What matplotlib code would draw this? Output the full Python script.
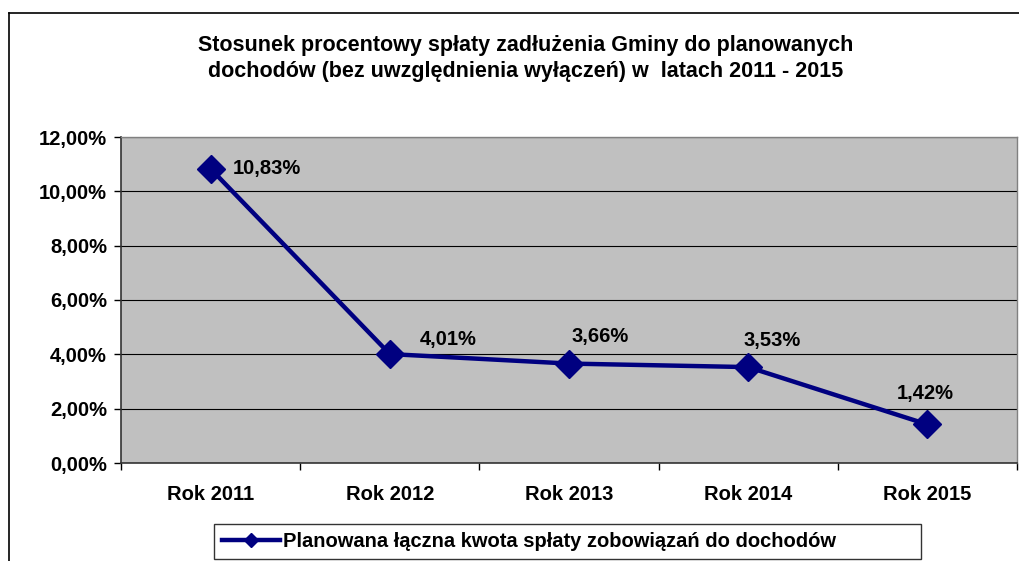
import matplotlib

matplotlib.use("Agg")

import matplotlib.pyplot as plt
from matplotlib.lines import Line2D
from matplotlib.ticker import FixedLocator, FuncFormatter

# data
years = ["Rok 2011", "Rok 2012", "Rok 2013", "Rok 2014", "Rok 2015"]
ratios = [10.83, 4.01, 3.66, 3.53, 1.42]
series_name = "Planowana łączna kwota spłaty zobowiązań do dochodów"
title = (
    "Stosunek procentowy spłaty zadłużenia Gminy do planowanych\n"
    "dochodów (bez uwzględnienia wyłączeń) w  latach 2011 - 2015"
)

# label offsets in pixels (x, y), placed by hand as in the original
label_offsets = [(22, 0), (30, 15), (2, 27), (-5, 27), (-31, 31)]

NAVY = "#000080"
plt.rcParams["font.family"] = ["Liberation Sans", "DejaVu Sans"]
plt.rcParams["font.weight"] = "bold"

W, H = 1020, 561
fig = plt.figure(figsize=(W / 100, H / 100), dpi=100, facecolor="white")
ax = fig.add_axes((121 / W, 1 - 463 / H, (1017 - 121) / W, (463 - 137) / H))
ax.set_facecolor("#C0C0C0")

x = list(range(len(years)))
ax.plot(
    x,
    ratios,
    color=NAVY,
    linewidth=3.2,
    marker="D",
    markersize=14,
    markerfacecolor=NAVY,
    markeredgecolor=NAVY,
    label=series_name,
    zorder=3,
    clip_on=False,
)

for xi, value, (dx, dy) in zip(x, ratios, label_offsets):
    ax.annotate(
        f"{value:.2f}%".replace(".", ","),
        (xi, value),
        xytext=(dx * 0.72, dy * 0.72),
        textcoords="offset points",
        ha="left",
        va="center",
        fontsize=14.5,
        fontweight="bold",
        color="black",
    )

ax.set_ylim(0, 12)
ax.set_xlim(-0.5, len(years) - 0.5)
ax.yaxis.set_major_locator(FixedLocator([0, 2, 4, 6, 8, 10, 12]))
ax.yaxis.set_major_formatter(FuncFormatter(lambda v, _: f"{v:.2f}%".replace(".", ",")))
ax.grid(axis="y", color="black", linewidth=0.8)
ax.set_axisbelow(True)

ax.set_xticks([i - 0.5 for i in range(len(years) + 1)])
ax.set_xticklabels([])
ax.set_xticks(x, minor=True)
ax.set_xticklabels(years, minor=True)
ax.tick_params(axis="x", which="major", length=5, width=1, direction="out", color="black")
ax.tick_params(axis="x", which="minor", length=0, pad=16, labelsize=14.5)
ax.tick_params(axis="y", length=5, width=1, direction="out", pad=5, labelsize=14.5, color="black")

for side in ("top", "right"):
    ax.spines[side].set_color("#808080")
    ax.spines[side].set_linewidth(1)
for side in ("left", "bottom"):
    ax.spines[side].set_color("#333333")
    ax.spines[side].set_linewidth(1.2)

fig.text(0.515, 1 - 58.5 / H, title, ha="center", va="center", fontsize=15.5,
         fontweight="bold", linespacing=1.25)

# outer chart border (cut off on the right and bottom)
fig.add_artist(Line2D([9 / W, 9 / W], [0, 1 - 13 / H], transform=fig.transFigure,
                      color="black", linewidth=1.2))
fig.add_artist(Line2D([9 / W, 1], [1 - 13 / H, 1 - 13 / H], transform=fig.transFigure,
                      color="black", linewidth=1.2))

leg = fig.legend(
    loc="upper left",
    bbox_to_anchor=(214 / W, 1 - 524 / H, (921 - 214) / W, 0),
    mode="expand",
    frameon=True,
    fancybox=False,
    fontsize=14.5,
    handlelength=2.9,
    handletextpad=0.15,
    borderpad=0.4,
    borderaxespad=0,
)
leg.get_frame().set_edgecolor("black")
leg.get_frame().set_linewidth(1)
for handle in leg.legend_handles:
    handle.set_markersize(7)

fig.savefig("out.png", dpi=100, facecolor="white")
